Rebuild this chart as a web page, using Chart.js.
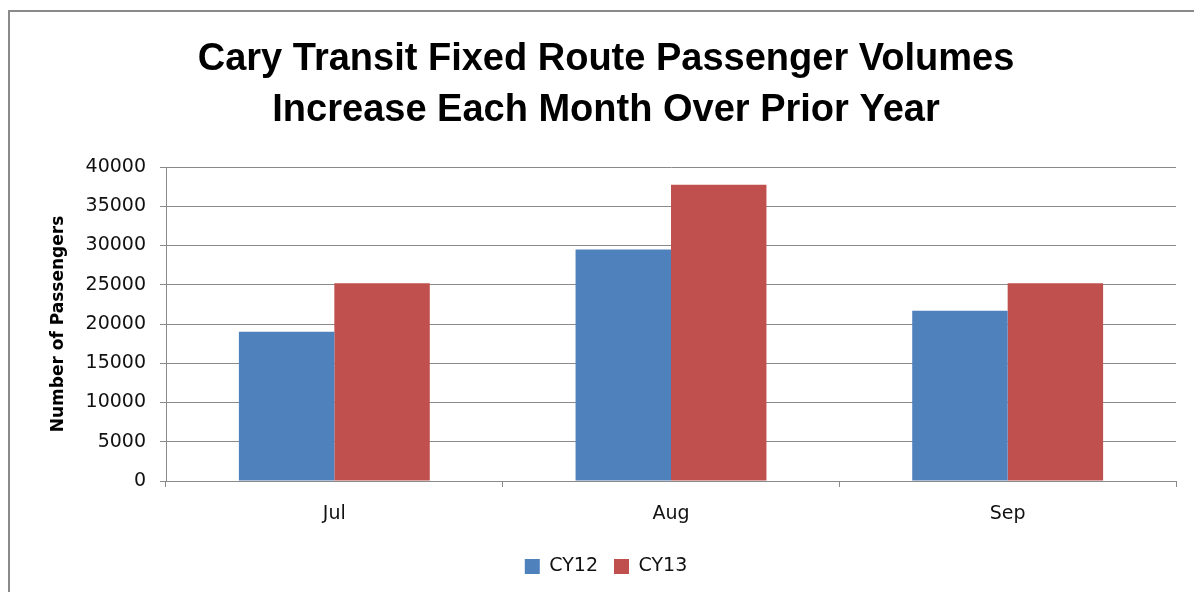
<!DOCTYPE html>
<html>
<head>
<meta charset="utf-8">
<script src="https://cdn.jsdelivr.net/npm/chart.js@4/dist/chart.umd.min.js"></script>
<style>
  html, body { margin: 0; padding: 0; background: #fff; overflow: hidden; }
  #frame {
    position: absolute; left: 8px; top: 10px; width: 1300px; height: 700px;
    border-left: 2px solid #8a8a8a; border-top: 2px solid #8a8a8a;
  }
  #wrap { position: absolute; left: 0; top: 0; width: 1194px; height: 592px; }
</style>
</head>
<body>
<div id="frame"></div>
<div id="wrap"><canvas id="chart" width="1194" height="592"></canvas></div>
<script>
  // chart data
  const months = ['Jul', 'Aug', 'Sep'];
  const cy12 = [19000, 29500, 21700];
  const cy13 = [25200, 37750, 25200];
  const yTicks = [0, 5000, 10000, 15000, 20000, 25000, 30000, 35000, 40000];

  const titleLines = ['Cary Transit Fixed Route Passenger Volumes', 'Increase Each Month Over Prior Year'];
  const gridColor = '#8a8a8a';
  const tickFont = { family: '"DejaVu Sans", sans-serif', size: 19 };

  new Chart(document.getElementById('chart'), {
    type: 'bar',
    data: {
      labels: months,
      datasets: [
        { label: 'CY12', data: cy12, backgroundColor: '#4f81bd', borderWidth: 0 },
        { label: 'CY13', data: cy13, backgroundColor: '#c0504d', borderWidth: 0 }
      ]
    },
    options: {
      responsive: false,
      animation: false,
      devicePixelRatio: 1,
      layout: { padding: { left: 36, right: 18, top: 0, bottom: 6 } },
      datasets: { bar: { categoryPercentage: 0.567, barPercentage: 1 } },
      plugins: {
        title: {
          display: true,
          text: titleLines,
          color: '#000',
          font: { family: '"Liberation Sans", Arial, sans-serif', size: 38, weight: 'bold', lineHeight: 51 / 38 },
          padding: { top: 34, bottom: 31 }
        },
        legend: {
          position: 'bottom',
          labels: {
            color: '#111',
            font: tickFont,
            boxWidth: 15,
            boxHeight: 15,
            padding: 16
          }
        },
        tooltip: { enabled: false }
      },
      scales: {
        x: {
          afterFit: scale => { scale.height = 60; },
          grid: { offset: true, drawOnChartArea: false, drawTicks: true, tickLength: 6, color: gridColor },
          border: { color: gridColor },
          ticks: { color: '#111', font: tickFont, padding: 16 }
        },
        y: {
          min: 0,
          max: 40000,
          afterFit: scale => { scale.width = 130; },
          afterBuildTicks: scale => { scale.ticks = yTicks.map(v => ({ value: v })); },
          grid: { color: gridColor, tickLength: 6 },
          border: { color: gridColor },
          ticks: { color: '#111', font: tickFont, padding: 14, callback: v => String(v) },
          title: {
            display: true,
            text: 'Number of Passengers',
            color: '#000',
            font: { family: '"DejaVu Sans", sans-serif', size: 17, weight: 'bold' },
            padding: { top: 12, bottom: 0 }
          }
        }
      }
    }
  });
</script>
</body>
</html>
